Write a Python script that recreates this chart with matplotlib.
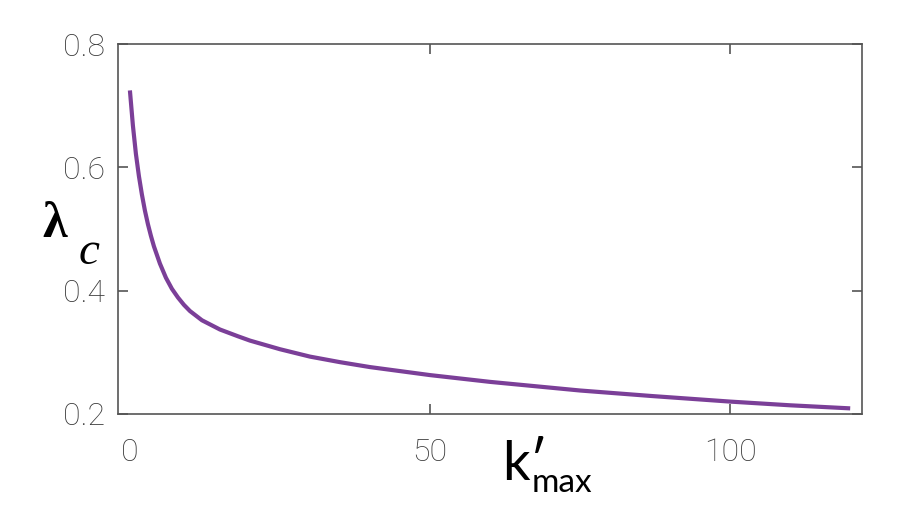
import matplotlib
matplotlib.use("Agg")
import matplotlib.pyplot as plt

# data
k_max = [0, 0.5, 1, 1.5, 2, 2.5, 3, 3.5, 4, 5, 6, 7, 8, 9, 10, 12, 15, 18, 20, 25,
         30, 35, 40, 50, 60, 75, 87, 100, 110, 120]
lam_c = [0.725, 0.668, 0.622, 0.586, 0.556, 0.530, 0.508, 0.489, 0.472, 0.444, 0.421,
         0.403, 0.389, 0.377, 0.367, 0.352, 0.337, 0.326, 0.319, 0.305,
         0.293, 0.284, 0.276, 0.263, 0.252, 0.238, 0.229, 0.220, 0.214, 0.209]

xticks = [0, 50, 100]
yticks = [0.2, 0.4, 0.6, 0.8]

fig = plt.figure(figsize=(9, 5.2), dpi=100)
ax = fig.add_axes([0.131, 0.204, 0.827, 0.711])

ax.plot(k_max, lam_c, color='#7B3F98', lw=3.0, solid_capstyle='butt')

ax.set_xlim(-2, 122)
ax.set_ylim(0.2, 0.8)
ax.set_xticks(xticks)
ax.set_xticklabels(['0', '50', '100'])
ax.set_yticks(yticks)
ax.set_yticklabels(['0.2', '0.4', '0.6', '0.8'])

for s in ax.spines.values():
    s.set_color('#555555')
    s.set_linewidth(1.2)

ax.tick_params(direction='in', length=7, width=1.2, color='#555555',
               top=True, right=True, labelcolor='#3a3a3a', labelsize=23)
ax.tick_params(axis='x', pad=17)
ax.tick_params(axis='y', pad=9)
for lab in ax.get_xticklabels() + ax.get_yticklabels():
    lab.set_fontfamily('Roboto')
    lab.set_fontweight('light')
# no tick mark at x = 0
t0 = ax.xaxis.get_major_ticks()[0]
t0.tick1line.set_visible(False)
t0.tick2line.set_visible(False)

# x label: k' with "max" subscript
fig.text(502 / 900, 1 - 480 / 520, "k′", family=['Lato', 'DejaVu Sans'],
         fontsize=39, ha='left', va='baseline', color='black')
fig.text(532 / 900, 1 - 492 / 520, "max", family='Lato',
         fontsize=24, ha='left', va='baseline', color='black')

# y label: bold lambda, italic c
fig.text(42 / 900, 1 - 237 / 520, "λ", family='Liberation Serif', fontweight='bold',
         fontsize=36, ha='left', va='baseline', color='black')
fig.text(79 / 900, 1 - 264 / 520, "c", family='Liberation Serif', style='italic',
         fontsize=34, ha='left', va='baseline', color='black')

fig.savefig('out.png', dpi=100)
